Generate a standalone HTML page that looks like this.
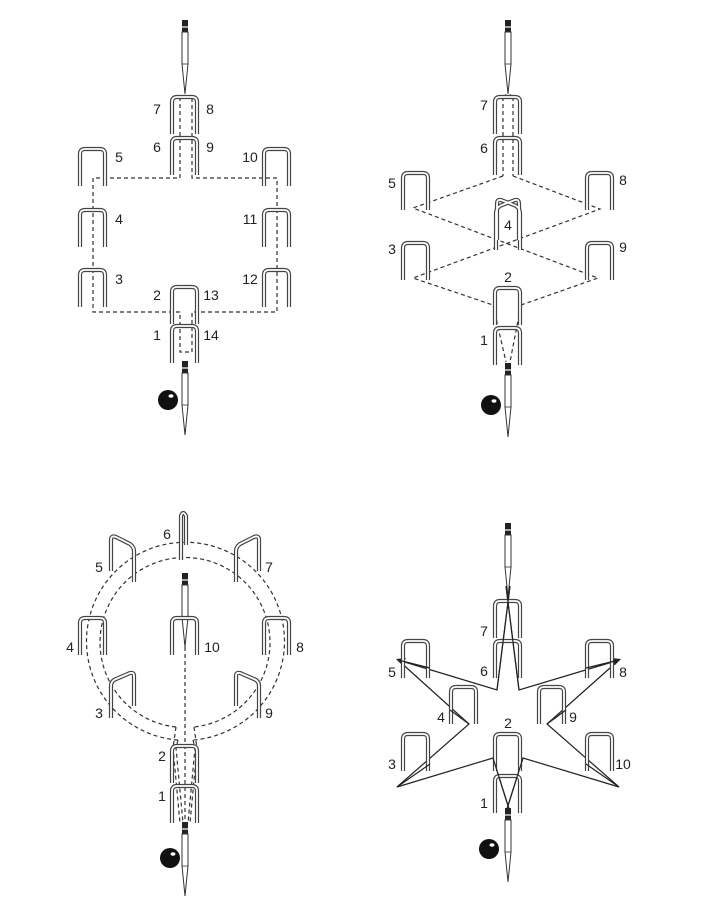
<!DOCTYPE html>
<html><head><meta charset="utf-8"><style>
html,body{margin:0;padding:0;background:#fff;}
svg{display:block;}
text{font-family:"Liberation Sans",sans-serif;font-size:14px;fill:#222;text-anchor:middle;}
</style></head><body>
<svg width="703" height="907" viewBox="0 0 703 907" xmlns="http://www.w3.org/2000/svg">
<defs>
<g id="h">
<path d="M1,38 V6 Q1,1 6,1 H21 Q26,1 26,6 V38" fill="none" stroke="#444" stroke-width="4.2"/>
<path d="M1,38 V6 Q1,1 6,1 H21 Q26,1 26,6 V38" fill="none" stroke="#fff" stroke-width="1.8"/>
</g>
<g id="s">
<rect x="-3" y="0" width="6" height="12" fill="#222"/>
<line x1="-3" y1="7" x2="3" y2="7" stroke="#fff" stroke-width="1.2"/>
<path d="M-3,12 V44 L0,74 L3,44 V12 Z" fill="#fff" stroke="#333" stroke-width="1"/>
<line x1="-3" y1="44" x2="3" y2="44" stroke="#333" stroke-width="0.8"/>
</g>
<g id="b"><circle r="10" fill="#111"/><ellipse cx="3" cy="-4" rx="2.5" ry="1.8" fill="#fff"/></g>
</defs>
<g fill="none" stroke="#333" stroke-width="1.2" stroke-dasharray="4,3">
<path d="M180,97 V178 H93 V312 H180 V352 H192 V312 H277 V178 H192 V97 Z"/>
<path d="M503,176 L413,208 L598,278 L521,305 L510,362"/>
<path d="M513,176 L600,209 L413,278 L493,305 L506,362"/>
<line x1="503" y1="97" x2="508" y2="93"/><line x1="513" y1="97" x2="508" y2="93"/>
<line x1="503" y1="97" x2="503" y2="176"/><line x1="513" y1="97" x2="513" y2="176"/>
<path d="M178,740 A99,99 0 1 1 193,740"/>
<path d="M176,727 A85,85 0 1 1 194,727"/>
<path d="M178,740 L176,748 L183,823"/>
<path d="M193,740 L195,748 L188,823"/>
<path d="M176,727 L173,748 L180,823"/>
<path d="M194,727 L197,748 L190,823"/>
<line x1="185" y1="640" x2="185" y2="823"/>
</g>
<g fill="none" stroke="#222" stroke-width="1.2">
<path d="M510,586 L497,690 L398,660 L469,724 L397,787 L493,758 L510,812 M506,586 L519,690 L619,660 L547,724 L619,787 L523,758 L506,812"/>
</g>
<path d="M396,659 l10,-1 l-4,7 z M621,659 l-10,-1 l4,7 z" fill="#222"/>
<use href="#s" x="185" y="20"/>
<use href="#h" x="171" y="96"/><use href="#h" x="171" y="137"/>
<use href="#h" x="79" y="148"/><use href="#h" x="79" y="209"/><use href="#h" x="79" y="269"/>
<use href="#h" x="263" y="148"/><use href="#h" x="263" y="209"/><use href="#h" x="263" y="269"/>
<use href="#h" x="171" y="286"/><use href="#h" x="171" y="325"/>
<use href="#s" x="185" y="361"/><use href="#b" x="168" y="400"/>
<use href="#s" x="508" y="20"/>
<use href="#h" x="494" y="96"/><use href="#h" x="494" y="137"/>
<use href="#h" x="402" y="172"/><use href="#h" x="586" y="172"/>
<use href="#h" x="402" y="242"/><use href="#h" x="586" y="242"/>
<use href="#h" x="494" y="287"/><use href="#h" x="494" y="327"/>
<g fill="none">
<path d="M496,250 V214 Q496,207 502,205 L515,200 Q519,199 519,204 V240 M520,250 V214 Q520,207 514,205 L501,200 Q497,199 497,204 V240" stroke="#444" stroke-width="4.2"/>
<path d="M496,250 V214 Q496,207 502,205 L515,200 Q519,199 519,204 V240 M520,250 V214 Q520,207 514,205 L501,200 Q497,199 497,204 V240" stroke="#fff" stroke-width="1.8"/>
</g>
<use href="#s" x="508" y="363"/><use href="#b" x="491" y="405"/>
<g fill="none" stroke="#444" stroke-width="4.2"><path d="M181,560 V516 Q183,510 186,516 V545"/>
<path d="M111,571 V540 Q111,535 116,537 L130,544 Q134,547 134,551 V582"/>
<path d="M259,571 V540 Q259,535 254,537 L240,544 Q236,547 236,551 V582"/>
<path d="M111,718 V686 Q111,681 116,679 L130,673 Q134,672 134,676 V706"/>
<path d="M259,718 V686 Q259,681 254,679 L240,673 Q236,672 236,676 V706"/></g>
<g fill="none" stroke="#fff" stroke-width="1.8"><path d="M181,560 V516 Q183,510 186,516 V545"/>
<path d="M111,571 V540 Q111,535 116,537 L130,544 Q134,547 134,551 V582"/>
<path d="M259,571 V540 Q259,535 254,537 L240,544 Q236,547 236,551 V582"/>
<path d="M111,718 V686 Q111,681 116,679 L130,673 Q134,672 134,676 V706"/>
<path d="M259,718 V686 Q259,681 254,679 L240,673 Q236,672 236,676 V706"/></g>
<use href="#s" x="185" y="573"/>
<use href="#h" x="79" y="617"/><use href="#h" x="263" y="617"/><use href="#h" x="171" y="617"/>
<use href="#h" x="171" y="745"/><use href="#h" x="171" y="785"/>
<use href="#s" x="185" y="822"/><use href="#b" x="170" y="858"/>
<use href="#s" x="508" y="523"/>
<use href="#h" x="494" y="600"/><use href="#h" x="494" y="640"/>
<use href="#h" x="402" y="640"/><use href="#h" x="586" y="640"/>
<use href="#h" x="450" y="686"/><use href="#h" x="538" y="686"/>
<use href="#h" x="402" y="733"/><use href="#h" x="494" y="733"/><use href="#h" x="586" y="733"/>
<use href="#h" x="494" y="775"/>
<g fill="none" stroke="#222" stroke-width="1.2">
<path d="M510,586 L497,690 M506,586 L519,690 M493,758 L510,812 M523,758 L506,812 M398,660 L430,668 M619,660 L586,668 M397,787 L430,764 M619,787 L586,764 M469,724 L450,710 M547,724 L566,710"/>
</g>
<use href="#s" x="508" y="808"/><use href="#b" x="489" y="849"/>
<text x="157" y="114">7</text><text x="210" y="114">8</text>
<text x="157" y="152">6</text><text x="210" y="152">9</text>
<text x="119" y="162">5</text><text x="119" y="224">4</text><text x="119" y="284">3</text>
<text x="250" y="162">10</text><text x="250" y="224">11</text><text x="250" y="284">12</text>
<text x="157" y="300">2</text><text x="211" y="300">13</text>
<text x="157" y="340">1</text><text x="211" y="340">14</text>
<text x="484" y="110">7</text><text x="484" y="153">6</text>
<text x="392" y="188">5</text><text x="623" y="185">8</text>
<text x="392" y="254">3</text><text x="623" y="252">9</text>
<text x="508" y="230">4</text><text x="508" y="282">2</text><text x="484" y="345">1</text>
<text x="167" y="539">6</text><text x="99" y="572">5</text><text x="269" y="572">7</text>
<text x="70" y="652">4</text><text x="300" y="652">8</text><text x="212" y="652">10</text>
<text x="99" y="718">3</text><text x="269" y="718">9</text>
<text x="162" y="761">2</text><text x="162" y="801">1</text>
<text x="484" y="636">7</text><text x="484" y="676">6</text>
<text x="392" y="677">5</text><text x="623" y="677">8</text>
<text x="441" y="722">4</text><text x="573" y="722">9</text>
<text x="508" y="728">2</text><text x="392" y="769">3</text><text x="623" y="769">10</text>
<text x="484" y="808">1</text>
</svg>
</body></html>
